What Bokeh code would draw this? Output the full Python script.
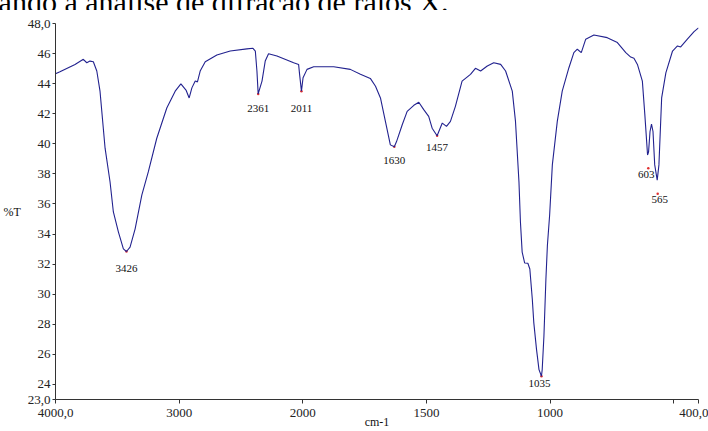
from bokeh.plotting import figure
from bokeh.layouts import column
from bokeh.models import (Range1d, FixedTicker, ColumnDataSource, Div,
                          CustomJSTransform)
from bokeh.transform import transform
from bokeh.embed import file_html
from bokeh.resources import INLINE
from bokeh.core.properties import value

# ---------------- data ----------------
wavenumber = [
    4000, 3964, 3842, 3775, 3747, 3721, 3694, 3666, 3640, 3599,
    3559, 3532, 3491, 3451, 3426, 3397, 3356, 3302, 3249, 3181,
    3100, 3032, 2986, 2943, 2919, 2897, 2870, 2852, 2830, 2789,
    2695, 2587, 2452, 2403, 2384, 2371, 2361, 2330, 2304, 2277,
    2209, 2074, 2034, 2026, 2011, 1999, 1983, 1956, 1875, 1808,
    1767, 1727, 1706, 1686, 1666, 1646, 1630, 1621, 1598, 1578,
    1551, 1531, 1511, 1491, 1477, 1457, 1450, 1436, 1419, 1403,
    1383, 1356, 1322, 1302, 1281, 1254, 1228, 1200, 1180, 1153,
    1140, 1126, 1120, 1113, 1103, 1090, 1082, 1072, 1066, 1055,
    1045, 1035, 1032, 1025, 1017, 1011, 1002, 991, 971, 951,
    924, 904, 890, 874, 856, 823, 769, 728, 694, 674,
    661, 647, 627, 617, 606, 602, 596, 590, 584, 577,
    567, 560, 549, 532, 505, 485, 472, 445, 418, 400,
]
transmittance = [
    44.66, 44.79, 45.28, 45.62, 45.39, 45.50, 45.46, 44.84, 43.50, 39.71,
    37.48, 35.47, 34.13, 33.02, 32.84, 33.13, 34.35, 36.59, 38.15, 40.37,
    42.38, 43.50, 43.99, 43.55, 43.05, 43.72, 44.17, 44.12, 44.84, 45.46,
    45.91, 46.17, 46.31, 46.35, 46.17, 44.84, 43.32, 44.17, 45.50, 45.99,
    45.84, 45.39, 45.28, 44.62, 43.50, 44.39, 44.95, 45.12, 45.12, 44.95,
    44.62, 44.35, 43.83, 43.05, 41.49, 39.93, 39.80, 40.15, 41.27, 42.16,
    42.56, 42.76, 42.27, 41.83, 41.04, 40.54, 40.82, 41.38, 41.16, 41.49,
    42.49, 44.17, 44.62, 45.02, 44.84, 45.17, 45.39, 45.28, 44.84, 43.50,
    41.49, 37.48, 34.80, 32.80, 32.08, 32.06, 31.68, 29.67, 28.11, 26.33,
    24.99, 24.55, 24.99, 27.22, 31.01, 33.24, 35.25, 38.60, 41.49, 43.50,
    45.06, 46.06, 46.29, 46.06, 46.96, 47.24, 47.06, 46.73, 46.06, 45.77,
    45.69, 45.28, 44.17, 41.94, 39.26, 39.45, 40.82, 41.31, 40.82, 38.60,
    37.59, 38.60, 43.05, 44.72, 46.17, 46.51, 46.44, 46.96, 47.46, 47.71,
]

peak_wn = [3426, 2361, 2011, 1630, 1457, 1035, 603, 565]
peak_T = [32.84, 43.32, 43.50, 39.80, 40.54, 24.55, 38.37, 36.68]
peak_labels = [str(w) for w in peak_wn]

x_ticks = [4000, 3000, 2000, 1500, 1000, 500, 400]
x_tick_labels = ["4000,0", "3000", "2000", "1500", "1000", "", "400,0"]
y_ticks = [23, 24, 26, 28, 30, 32, 34, 36, 38, 40, 42, 44, 46, 48]
y_tick_labels = ["23,0", "24", "26", "28", "30", "32", "34", "36", "38",
                 "40", "42", "44", "46", "48,0"]

header_text = "realizando a análise de difração de raios X."
y_title = "%T"
x_title = "cm-1"

# ---------------- styles ----------------
label_dx = [0, 0, 0, 0, 0, -2, -2, 2]     # px
label_dy = [17, 15, 17, 14, 12, 7, 6, 6]  # px (down)
LINE = "#22228f"
AXIS = "#333333"
TICK_FONT = "Liberation Sans Narrow"
SERIF = "Liberation Serif"
HEADER_H = 10


# FTIR scale: 4000-2000 compressed, below 2000 doubled
def axis_pos(wn):
    return (4000 - wn) if wn >= 2000 else 2000 + 2 * (2000 - wn)


ftir = CustomJSTransform(
    func="return x >= 2000 ? 4000 - x : 2000 + 2 * (2000 - x);",
    v_func="return xs.map(x => x >= 2000 ? 4000 - x : 2000 + 2 * (2000 - x));",
)

# cut-off line of document text above the chart
header = Div(
    text=('<div style="font-family:\'Liberation Serif\',serif;font-size:30px;'
          'line-height:30px;white-space:nowrap;margin-top:-16px;'
          'margin-left:-68px;color:#000">' + header_text + '</div>'),
    width=708, height=HEADER_H, margin=0, styles={"overflow": "hidden"})

p = figure(width=708, height=431 - HEADER_H, output_backend="svg",
           toolbar_location=None,
           x_range=Range1d(axis_pos(4000), axis_pos(400)),
           y_range=Range1d(23, 48),
           min_border_left=55, min_border_right=10,
           min_border_top=23 - HEADER_H, min_border_bottom=32)
p.outline_line_color = None
p.xgrid.visible = False
p.ygrid.visible = False
p.background_fill_color = "white"
p.border_fill_color = "white"

# axes
p.xaxis.ticker = FixedTicker(ticks=[axis_pos(w) for w in x_ticks])
p.xaxis.major_label_overrides = {axis_pos(w): s for w, s in zip(x_ticks, x_tick_labels)}
p.yaxis.ticker = FixedTicker(ticks=y_ticks)
p.yaxis.major_label_overrides = {t: s for t, s in zip(y_ticks, y_tick_labels)}
for ax in (p.xaxis, p.yaxis):
    ax.axis_line_color = AXIS
    ax.major_tick_line_color = AXIS
    ax.minor_tick_line_color = None
    ax.major_tick_in = 0
    ax.major_label_text_font = TICK_FONT
    ax.major_label_text_font_size = "13px"
    ax.major_label_text_color = "#222222"
    ax.axis_label_text_font = SERIF
    ax.axis_label_text_font_size = "12px"
    ax.axis_label_text_font_style = "normal"
    ax.axis_label_text_color = "#111111"
p.xaxis.major_tick_out = 4
p.xaxis.major_label_standoff = 5
p.xaxis.axis_label = x_title
p.xaxis.axis_label_standoff = -5
p.yaxis.major_tick_out = 3
p.yaxis.major_label_standoff = 2
p.yaxis.axis_label = y_title
p.yaxis.axis_label_standoff = 4
yax = p.yaxis[0]
if "axis_label_orientation" in yax.properties():
    yax.axis_label_orientation = "horizontal"

src = ColumnDataSource(dict(wn=wavenumber, T=transmittance))
peaks = ColumnDataSource(dict(wn=peak_wn, T=peak_T, label=peak_labels,
                              dx=label_dx, dy=label_dy))

p.scatter(x=transform("wn", ftir), y="T", source=peaks, size=2.5,
          color="#e03030", line_color=None)
p.line(x=transform("wn", ftir), y="T", source=src, line_color=LINE,
       line_width=1.1)
p.text(x=transform("wn", ftir), y="T", text="label", source=peaks,
       x_offset="dx", y_offset="dy", text_font=value(TICK_FONT),
       text_font_size="11px", text_align="center", text_baseline="middle",
       text_color="#111111")

layout = column(header, p, spacing=0)
open("out.html", "w").write(file_html(layout, INLINE))
